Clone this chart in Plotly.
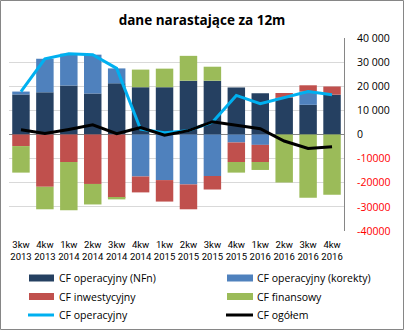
import plotly.graph_objects as go

# Quarterly cash flows, trailing 12 months (PLN thousands)
quarters = ["3kw<br>2013", "4kw<br>2013", "1kw<br>2014", "2kw<br>2014", "3kw<br>2014",
            "4kw<br>2014", "1kw<br>2015", "2kw<br>2015", "3kw<br>2015", "4kw<br>2015",
            "1kw<br>2016", "2kw<br>2016", "3kw<br>2016", "4kw<br>2016"]

cf_oper_nfn = [16600, 17500, 20300, 17000, 21200, 19600, 19600, 22300, 22300, 19500,
               17100, 15200, 12300, 16500]
cf_oper_korekty = [1200, 13900, 13200, 16100, 6200, -17400, -18900, -20700, -17200, -3300,
                   -4300, 0, 5500, 0]
cf_inwest = [-4800, -21700, -11400, -20500, -26200, -6600, -8900, -10300, -5600, -8100,
             -7100, 2000, 2600, 3400]
cf_finans = [-11000, -9300, -20000, -8500, -700, 7300, 7700, 10300, 5800, -4400,
             -3300, -19900, -26200, -25000]
cf_oper = [17800, 31400, 33500, 33100, 27400, 2200, 700, 1600, 5100, 16200,
           12800, 15200, 17800, 16500]
cf_ogolem = [2000, 400, 2100, 4000, 300, 2900, -300, 1600, 5300, 3700,
             2400, -2700, -5800, -5100]

bar_names = ["CF operacyjny (NFn)", "CF operacyjny (korekty)", "CF inwestycyjny", "CF finansowy"]
line_names = ["CF operacyjny", "CF ogółem"]

y_ticks = [40000, 30000, 20000, 10000, 0, -10000, -20000, -30000, -40000]
y_tick_text = ["40 000", "30 000", "20 000", "10 000", "0",
               "-10000", "-20000", "-30000", "-40000"]

bar_colors = ["#254061", "#4f81bd", "#c0504d", "#9bbb59"]
line_colors = ["#00b0f0", "#000000"]

FONT = "Open Sans"
TICK_FONT = "Roboto"

fig = go.Figure()
for name, vals, col in zip(bar_names, [cf_oper_nfn, cf_oper_korekty, cf_inwest, cf_finans], bar_colors):
    fig.add_trace(go.Bar(x=quarters, y=vals, name=name, marker=dict(color=col, line=dict(width=0)),
                         showlegend=False))
for name, vals, col in zip(line_names, [cf_oper, cf_ogolem], line_colors):
    fig.add_trace(go.Scatter(x=quarters, y=vals, name=name, mode="lines",
                             line=dict(color=col, width=3), showlegend=False))

W, H = 404, 330
L, R, T, B = 9, 60, 38, 99
pw, ph = W - L - R, H - T - B


def px(x):
    return (x - L) / pw


def py(y):
    return (H - B - y) / ph


shapes = []
annotations = []

# outer frame
shapes.append(dict(type="rect", xref="paper", yref="paper",
                   x0=px(0.5), x1=px(W - 0.5), y0=py(H - 0.5), y1=py(0.5),
                   line=dict(color="#868686", width=1), fillcolor="rgba(0,0,0,0)", layer="above"))

# legend, two columns
rows_y = [278, 296.5, 315]
cols = [(29, 54, 57), (227, 253, 255)]
entries = [(bar_names[0], bar_colors[0], "bar"), (bar_names[1], bar_colors[1], "bar"),
           (bar_names[2], bar_colors[2], "bar"), (bar_names[3], bar_colors[3], "bar"),
           (line_names[0], line_colors[0], "line"), (line_names[1], line_colors[1], "line")]
for i, (name, col, kind) in enumerate(entries):
    r, c = divmod(i, 2)
    x0, x1, xt = cols[c]
    yc = rows_y[r]
    if kind == "bar":
        shapes.append(dict(type="rect", xref="paper", yref="paper",
                           x0=px(x0), x1=px(x1), y0=py(yc + 3.5), y1=py(yc - 3.5),
                           line=dict(width=0), fillcolor=col))
    else:
        shapes.append(dict(type="line", xref="paper", yref="paper",
                           x0=px(x0 - 1), x1=px(x1), y0=py(yc), y1=py(yc),
                           line=dict(color=col, width=3)))
    annotations.append(dict(text=name, xref="paper", yref="paper", x=px(xt), y=py(yc),
                            xanchor="left", yanchor="middle", showarrow=False,
                            font=dict(family=FONT, size=10.5, color="#000000")))

tick_text = []
for v, t in zip(y_ticks, y_tick_text):
    if v < 0:
        tick_text.append('<span style="color:#ff0000">' + t + '</span>')
    else:
        tick_text.append(t)

fig.update_layout(
    width=W, height=H,
    margin=dict(l=L, r=R, t=T, b=B, pad=0),
    paper_bgcolor="white", plot_bgcolor="white",
    barmode="relative", bargap=0.27,
    title=dict(text="<b>dane narastające za 12m</b>", x=0.5, xref="container", xanchor="center",
               y=1 - 20 / H, yref="container", yanchor="middle",
               font=dict(family=FONT, size=13.5, color="#000000")),
    font=dict(family=FONT, size=11, color="#000000"),
    xaxis=dict(tickfont=dict(family=TICK_FONT, size=9.5, color="#000000"), showgrid=False,
               showline=False, ticks="", tickangle=0, ticklabelstandoff=6),
    yaxis=dict(side="right", range=[-40000, 40000], tickvals=y_ticks, ticktext=tick_text,
               tickfont=dict(family=FONT, size=10.5, color="#000000"),
               showgrid=True, gridcolor="#d9d9d9", gridwidth=1,
               zeroline=True, zerolinecolor="#868686", zerolinewidth=1,
               showline=True, linecolor="#868686", linewidth=1, ticks="",
               ticklabelstandoff=10),
    shapes=shapes, annotations=annotations,
    showlegend=False,
)

fig.write_html("out.html")
